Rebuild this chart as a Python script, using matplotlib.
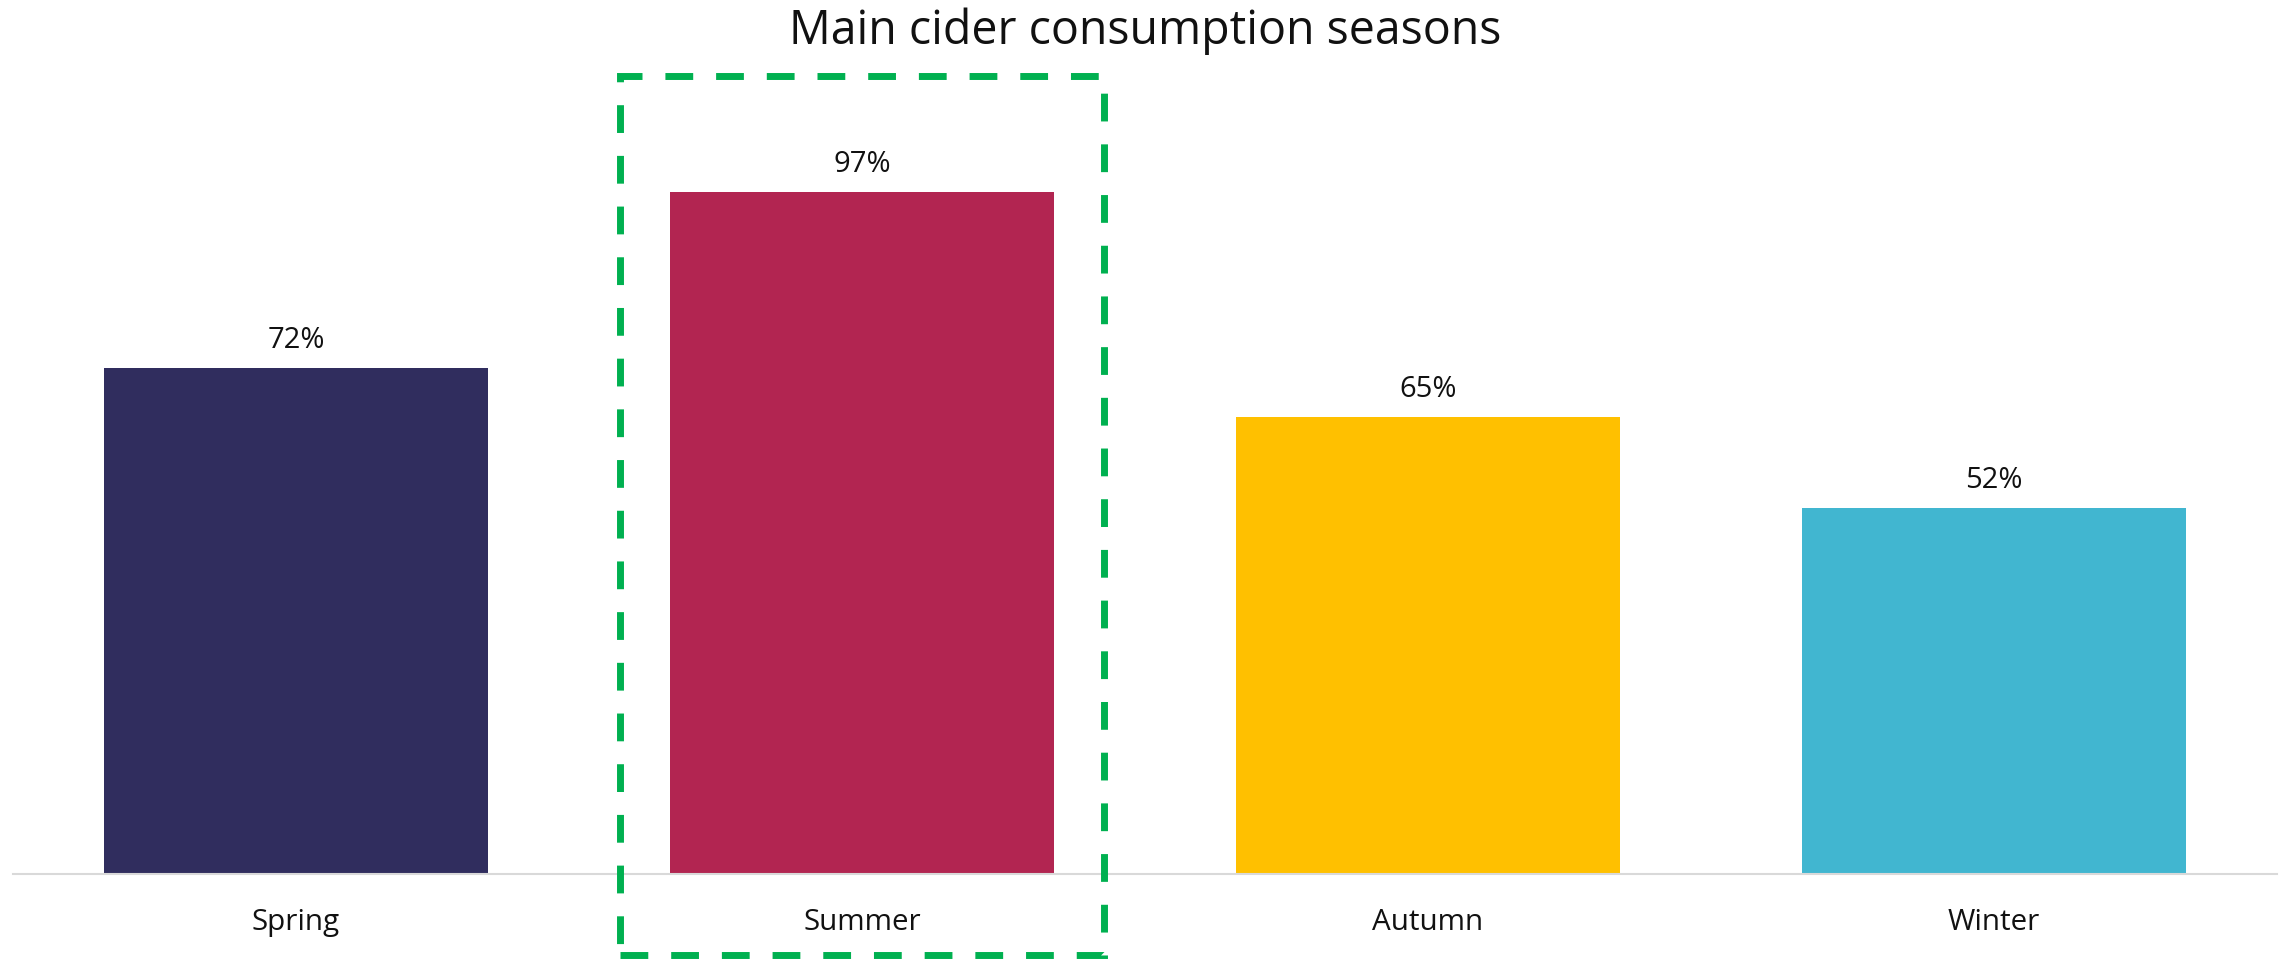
import matplotlib
matplotlib.use("Agg")
import matplotlib.pyplot as plt
from matplotlib.patches import Rectangle

seasons = ["Spring", "Summer", "Autumn", "Winter"]
shares = [72, 97, 65, 52]
bar_colors = ["#302D5E", "#B22551", "#FFC000", "#41B6D0"]
highlight = "Summer"

plt.rcParams["font.family"] = ["Open Sans", "DejaVu Sans"]

fig = plt.figure(figsize=(22.9, 9.6), dpi=100)
ax = fig.add_axes([13 / 2290, 86 / 960, 2264 / 2290, 703 / 960])

x = list(range(len(seasons)))
ax.bar(x, shares, width=0.677, color=bar_colors, zorder=2)

for xi, v in zip(x, shares):
    ax.annotate(f"{v}%", (xi, v), xytext=(0, 9.5), textcoords="offset points",
                ha="center", va="bottom", fontsize=21, color="#111111")

ax.set_xlim(-0.5, len(seasons) - 0.5)
ax.set_ylim(0, 100)
ax.set_xticks(x)
ax.set_xticklabels(seasons, fontsize=21.3, color="#111111")
ax.tick_params(axis="x", length=0, pad=24.5)
ax.set_yticks([])
for side in ("left", "right", "top"):
    ax.spines[side].set_visible(False)
ax.spines["bottom"].set_color("#D9D9D9")
ax.spines["bottom"].set_linewidth(1.5)

# dashed frame around the peak season
hi = seasons.index(highlight)
frame = Rectangle((hi - 0.427, -11.5), 0.855, 125, fill=False,
                  edgecolor="#00B050", linewidth=5, linestyle=(0, (4, 3.3)),
                  clip_on=False, zorder=3)
ax.add_patch(frame)

fig.text(0.5, 1 - 31 / 960, "Main cider consumption seasons", ha="center",
         va="center", fontsize=33.5, color="#111111")

fig.savefig("out.png", dpi=100, facecolor="white")
